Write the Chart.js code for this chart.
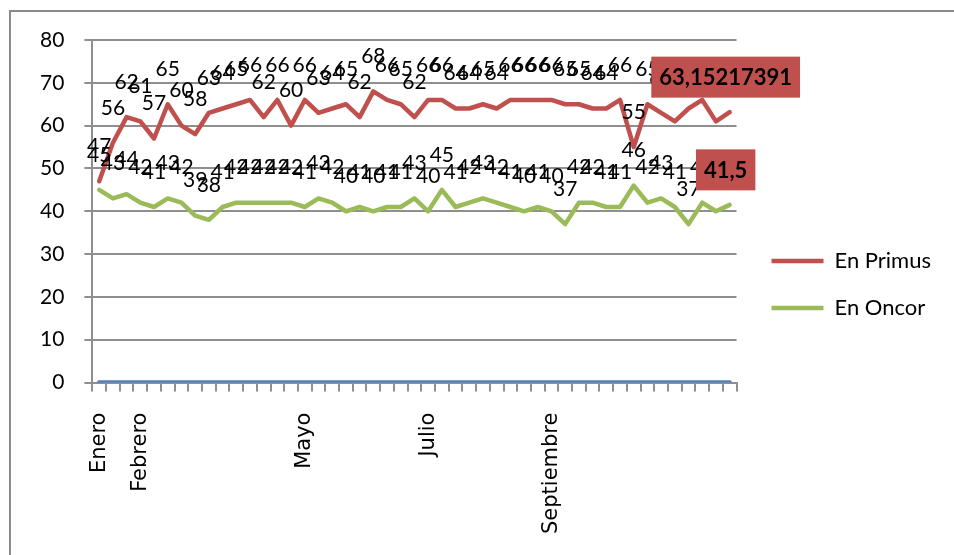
<!DOCTYPE html>
<html>
<head>
<meta charset="utf-8">
<script src="https://cdn.jsdelivr.net/npm/chart.js@4.4.1/dist/chart.umd.min.js"></script>
<style>
  html, body { margin: 0; padding: 0; background: #ffffff; }
  #wrap { width: 954px; height: 555px; position: relative; }
</style>
</head>
<body>
<div id="wrap"><canvas id="c" width="954" height="555"></canvas></div>
<script>
const categories = ['Enero','','','Febrero','','','','','','','','','','','','Mayo','','','','','','','','','Julio','','','','','','','','','Septiembre','','','','','','','','','','','','',''];
const enPrimus = [47,56,62,61,57,65,60,58,63,64,65,66,62,66,60,66,63,64,65,62,68,66,65,62,66,66,64,64,65,64,66,66,66,66,65,65,64,64,66,55,65,63,61,64,66,61,63.15217391];
const enOncor = [45,43,44,42,41,43,42,39,38,41,42,42,42,42,42,41,43,42,40,41,40,41,41,43,40,45,41,42,43,42,41,40,41,40,37,42,42,41,41,46,42,43,41,37,42,40,41.5];
const serie3 = [0,0,0,0,0,0,0,0,0,0,0,0,0,0,0,0,0,0,0,0,0,0,0,0,0,0,0,0,0,0,0,0,0,0,0,0,0,0,0,0,0,0,0,0,0,0,0];
const yTicks = [0,10,20,30,40,50,60,70,80];

const GRID = '#8f8f8f';
const LABEL_FONT = 'Lato, "Liberation Sans", sans-serif';

const borderPlugin = {
  id: 'outerBorder',
  beforeDraw(chart) {
    const ctx = chart.ctx;
    ctx.save();
    ctx.strokeStyle = '#8a8a8a';
    ctx.lineWidth = 2;
    ctx.strokeRect(10, 11, 2000, 2000);
    ctx.restore();
  }
};

const legendShift = {
  id: 'legendShift',
  afterLayout(chart) {
    const lg = chart.legend;
    if (lg) { lg.left += 10; lg.right += 10; lg.top -= 13; lg.bottom -= 13; }
  }
};

const valueLabels = {
  id: 'valueLabels',
  afterDatasetsDraw(chart) {
    const ctx = chart.ctx;
    ctx.save();
    [0, 1].forEach(di => {
      const meta = chart.getDatasetMeta(di);
      const data = chart.data.datasets[di].data;
      meta.data.forEach((pt, i) => {
        const v = data[i];
        const txt = String(v).replace('.', ',');
        const x = pt.x, y = pt.y - 35;
        const last = i === data.length - 1;
        ctx.textAlign = 'center';
        ctx.textBaseline = 'middle';
        if (last) {
          ctx.font = 'bold 22px ' + LABEL_FONT;
          const w = ctx.measureText(txt).width + 16;
          ctx.fillStyle = '#C0504D';
          ctx.fillRect(x - w / 2 - 4, y - 20.5, w, 41);
          ctx.fillStyle = '#000000';
          ctx.fillText(txt, x - 4, y + 1);
        } else {
          ctx.font = '21px ' + LABEL_FONT;
          ctx.fillStyle = '#000000';
          ctx.fillText(txt, x, y);
        }
      });
    });
    ctx.restore();
  }
};

new Chart(document.getElementById('c'), {
  type: 'line',
  data: {
    labels: categories,
    datasets: [
      { label: 'En Primus', data: enPrimus, borderColor: '#C0504D', backgroundColor: '#C0504D', borderWidth: 4.5, pointRadius: 0, tension: 0, borderCapStyle: 'round', borderJoinStyle: 'round' },
      { label: 'En Oncor', data: enOncor, borderColor: '#9BBB59', backgroundColor: '#9BBB59', borderWidth: 4.5, pointRadius: 0, tension: 0, borderCapStyle: 'round', borderJoinStyle: 'round' },
      { label: 'Serie3', data: serie3, borderColor: '#4F81BD', backgroundColor: '#4F81BD', borderWidth: 4.5, pointRadius: 0, tension: 0, borderCapStyle: 'round' }
    ]
  },
  options: {
    responsive: false,
    animation: false,
    devicePixelRatio: 1,
    layout: { padding: { left: 20, top: 40, right: 23, bottom: 0 } },
    plugins: {
      legend: {
        position: 'right',
        labels: {
          font: { family: LABEL_FONT, size: 22 },
          color: '#000000',
          padding: 25,
          usePointStyle: true,
          pointStyle: 'line',
          pointStyleWidth: 52,
          boxHeight: 4,
          filter: item => item.datasetIndex < 2
        }
      },
      tooltip: { enabled: false }
    },
    scales: {
      x: {
        type: 'category',
        offset: true,
        grid: { offset: true, drawOnChartArea: false, drawTicks: true, tickLength: 9, color: GRID, lineWidth: 2 },
        border: { display: true, color: GRID, width: 2 },
        ticks: {
          autoSkip: false,
          maxRotation: 90,
          minRotation: 90,
          padding: 21,
          color: '#000000',
          font: { family: "'DejaVu Sans', Verdana, sans-serif", size: 21 }
        }
      },
      y: {
        min: 0,
        max: 80,
        afterBuildTicks(scale) { scale.ticks = yTicks.map(v => ({ value: v })); },
        grid: { color: GRID, lineWidth: 2, drawTicks: true, tickLength: 8 },
        border: { display: true, color: GRID, width: 2 },
        ticks: {
          padding: 20,
          color: '#000000',
          font: { family: LABEL_FONT, size: 21 }
        }
      }
    }
  },
  plugins: [borderPlugin, legendShift, valueLabels]
});
</script>
</body>
</html>
